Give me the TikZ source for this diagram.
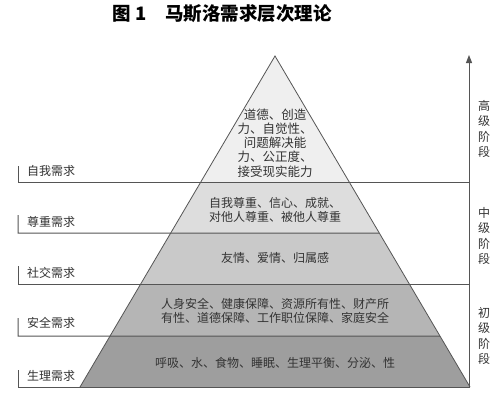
\documentclass[tikz,border=0pt]{standalone}
\usepackage{fontspec}
\setmainfont{Noto Sans CJK SC}
\usetikzlibrary{calc,arrows.meta}
\definecolor{cA}{HTML}{EFEFEF}
\definecolor{cB}{HTML}{DDDDDD}
\definecolor{cC}{HTML}{C9C9C9}
\definecolor{cD}{HTML}{B5B5B5}
\definecolor{cE}{HTML}{9E9E9E}
\definecolor{ink}{HTML}{333333}
\definecolor{rule}{HTML}{555555}
\tikzset{
  sep/.style={draw=rule, line width=1pt},
  edge/.style={draw=rule, line width=0.8pt},
  lab/.style={anchor=west, text=ink, font=\fontsize{12}{14}\selectfont, inner sep=0pt},
  tier/.style={align=center, text=ink, font=\fontsize{12}{14}\selectfont, inner sep=0pt},
  stage/.style={align=center, text=ink, font=\fontsize{12}{15.5}\selectfont, inner sep=0pt},
}
\begin{document}
\begin{tikzpicture}[x=1pt,y=-1pt]
\useasboundingbox (0,0) rectangle (500,402);
\fill[white] (0,0) rectangle (500,402);
% title
\node[font=\fontsize{18.5}{20}\selectfont\bfseries, text=black, inner sep=0pt] (title) at (222,14) {图 1　马斯洛需求层次理论};
% pyramid geometry
\coordinate (A) at (275,56);
\coordinate (BL) at (80,387);
\coordinate (BR) at (470,387);
\coordinate (L1) at ($(A)!{126/331}!(BL)$);
\coordinate (R1) at ($(A)!{126/331}!(BR)$);
\coordinate (L2) at ($(A)!{177/331}!(BL)$);
\coordinate (R2) at ($(A)!{177/331}!(BR)$);
\coordinate (L3) at ($(A)!{228/331}!(BL)$);
\coordinate (R3) at ($(A)!{228/331}!(BR)$);
\coordinate (L4) at ($(A)!{280/331}!(BL)$);
\coordinate (R4) at ($(A)!{280/331}!(BR)$);
% fills
\fill[cA] (A) -- (L1) -- (R1) -- cycle;
\fill[cB] (L1) -- (L2) -- (R2) -- (R1) -- cycle;
\fill[cC] (L2) -- (L3) -- (R3) -- (R2) -- cycle;
\fill[cD] (L3) -- (L4) -- (R4) -- (R3) -- cycle;
\fill[cE] (L4) -- (BL) -- (BR) -- (R4) -- cycle;
% pyramid sides
\draw[edge] (BL) -- (A) -- (BR);
% left brackets and separators
\coordinate (K1t) at (18,166); \coordinate (K1) at (18,182);
\coordinate (K2t) at (18,215); \coordinate (K2) at (18,233);
\coordinate (K3t) at (18,266); \coordinate (K3) at (18,284);
\coordinate (K4t) at (18,318); \coordinate (K4) at (18,336);
\coordinate (K5t) at (18,370); \coordinate (K5) at (18,387);
\coordinate (E1) at (469,182);
\coordinate (E3) at (469,284);
\coordinate (E5) at (469,387);
\coordinate (top) at (469,55);
\draw[sep] (K1t) -- (K1) -- (E1);
\draw[sep] (K2t) -- (K2) -- (R2);
\draw[sep] (K3t) -- (K3) -- (E3);
\draw[sep] (K4t) -- (K4) -- (R4);
\draw[sep] (K5t) -- (K5) -- (BR);
% axis
\draw[draw=rule, line width=1pt, -{Triangle[length=8pt,width=6pt]}] (E5) -- (top);
% left labels
\node[lab] (n1) at (27,171) {自我需求};
\node[lab] (n2) at (27,222) {尊重需求};
\node[lab] (n3) at (27,273) {社交需求};
\node[lab] (n4) at (27,323) {安全需求};
\node[lab] (n5) at (27,376) {生理需求};
% tier texts
\node[tier, font=\fontsize{12.5}{14.2}\selectfont] (t1) at (275,143) {道德、创造\\力、自觉性、\\问题解决能\\力、公正度、\\接受现实能力};
\node[tier] (t2) at (275,209.5) {自我尊重、信心、成就、\\对他人尊重、被他人尊重};
\node[tier] (t3) at (275,258) {友情、爱情、归属感};
\node[tier] (t4) at (275,311) {人身安全、健康保障、资源所有性、财产所\\有性、道德保障、工作职位保障、家庭安全};
\node[tier] (t5) at (275,363) {呼吸、水、食物、睡眠、生理平衡、分泌、性};
% stages
\node[stage] (s1) at (484,129) {高\\级\\阶\\段};
\node[stage] (s2) at (484,236) {中\\级\\阶\\段};
\node[stage] (s3) at (484,336) {初\\级\\阶\\段};
\end{tikzpicture}
\end{document}
